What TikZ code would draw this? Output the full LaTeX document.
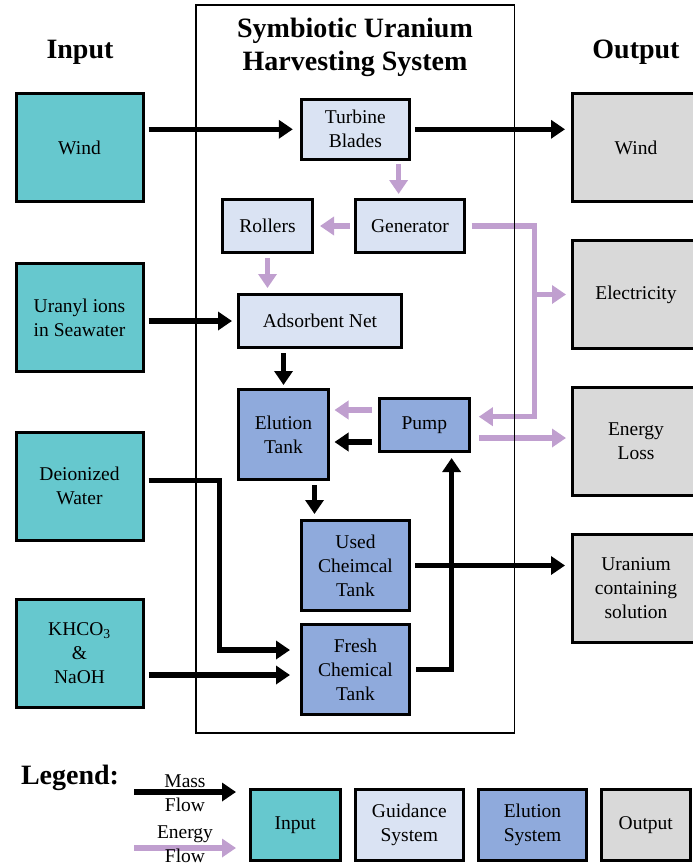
\documentclass[tikz,border=0pt]{standalone}
\usepackage{fontspec}
\setmainfont{Liberation Serif}
\usetikzlibrary{arrows.meta,calc}
\definecolor{inC}{HTML}{66C8CE}
\definecolor{guC}{HTML}{DAE3F3}
\definecolor{elC}{HTML}{8FAADC}
\definecolor{outC}{HTML}{D9D9D9}
\definecolor{enC}{HTML}{C09FCF}
\begin{document}
\begin{tikzpicture}[x=1pt,y=-1pt,
  txt/.style={font=\fontsize{19.5}{24}\selectfont, align=center, inner sep=0pt},
  head/.style={font=\fontsize{28}{33}\selectfont\bfseries, align=center, inner sep=0pt},
  box/.style={txt, draw=black, line width=3pt},
  inbox/.style={box, fill=inC, minimum width=127pt, minimum height=108pt},
  outbox/.style={box, fill=outC, minimum width=127pt, minimum height=108pt},
  gubox/.style={box, fill=guC},
  elbox/.style={box, fill=elC},
  mass/.style={draw=black, line width=5.5pt, -{Triangle[length=14pt,width=18pt]}, shorten <=4pt, shorten >=5pt},
  energy/.style={draw=enC, line width=5.5pt, -{Triangle[length=14pt,width=18pt]}, shorten <=4pt, shorten >=5pt},
]
\useasboundingbox (0,0) rectangle (693,867);
\clip (0,0) rectangle (693,867);

% headings
\node[head] (hin) at (80,52) {Input};
\node[head] (hout) at (636,52) {Output};
\node[head] (title) at (355,47.5) {Symbiotic Uranium\\Harvesting System};

% inputs
\node[inbox] (inWind) at (79.5,147.5) {Wind};
\node[inbox] (inU) at (79.5,317.5) {Uranyl ions\\in Seawater};
\node[inbox] (inDI) at (79.5,486) {Deionized\\Water};
\node[inbox] (inK) at (79.5,653.5) {KHCO\textsubscript{3}\\\&\\NaOH};

% outputs
\node[outbox] (outWind) at (636,147.5) {Wind};
\node[outbox] (outE) at (636,294.5) {Electricity};
\node[outbox] (outL) at (636,441.5) {Energy\\Loss};
\node[outbox] (outU) at (636,588.5) {Uranium\\containing\\solution};

% system
\node[gubox, minimum width=108pt, minimum height=60pt] (turbine) at (355.3,129.3) {Turbine\\Blades};
\node[gubox, minimum width=109pt, minimum height=53pt] (generator) at (410,226) {Generator};
\node[gubox, minimum width=90pt, minimum height=53pt] (rollers) at (267.5,226) {Rollers};
\node[gubox, minimum width=163pt, minimum height=53pt] (adsorb) at (320,321) {Adsorbent Net};
\node[elbox, minimum width=90pt, minimum height=90pt] (elution) at (283.5,434.5) {Elution\\Tank};
\node[elbox, minimum width=90pt, minimum height=53pt] (pump) at (424.3,425) {Pump};
\node[elbox, minimum width=108pt, minimum height=90pt] (used) at (355.5,565.5) {Used\\Cheimcal\\Tank};
\node[elbox, minimum width=108pt, minimum height=90pt] (fresh) at (355.5,669.5) {Fresh\\Chemical\\Tank};

% helper coordinates
\coordinate (bus) at (534.7,0);
\coordinate (diTurn) at (219.6,0);
\coordinate (pumpIn) at ($(pump.east)+(0,-8.3)$);
\coordinate (pumpOut) at ($(pump.east)+(0,13)$);
\coordinate (pumpE1) at ($(pump.west)+(0,-15)$);
\coordinate (pumpM1) at ($(pump.west)+(0,17)$);
\coordinate (tG) at ($(generator.north)+(-11.4,0)$);
\coordinate (eU) at ($(elution.south)+(31,0)$);
\coordinate (diS) at ($(inDI.east)+(0,-5.3)$);
\coordinate (freshA) at ($(fresh.west)+(0,-19.5)$);
\coordinate (kA) at ($(fresh.west)+(0,5.5)$);
\coordinate (pB) at ($(pump.south)+(27.3,0)$);

% energy flows
\draw[energy, shorten <=3pt, shorten >=4pt] (tG |- turbine.south) -- (tG);
\draw[energy, shorten >=6pt] (generator.west) -- (rollers.east);
\draw[energy] (rollers.south) -- (rollers.south |- adsorb.north);
\draw[energy, shorten <=5.5pt, shorten >=8pt] (generator.east) -- (generator.east -| bus) -- (bus |- pumpIn) -- (pumpIn);
\draw[energy, shorten <=0pt] (bus |- outE.west) -- (outE.west);
\draw[energy, shorten <=6pt, shorten >=4.5pt] (pumpE1) -- (pumpE1 -| elution.east);
\draw[energy, shorten <=8pt] (pumpOut) -- (pumpOut -| outL.west);

% mass flows
\draw[mass, shorten >=7pt] (inWind.east |- turbine.west) -- (turbine.west);
\draw[mass, shorten >=6pt] (turbine.east) -- (outWind.west |- turbine.east);
\draw[mass] (inU.east |- adsorb.west) -- (adsorb.west);
\draw[mass, shorten >=3pt] (elution.north |- adsorb.south) -- (elution.north);
\draw[mass, shorten <=6pt, shorten >=4.5pt] (pumpM1) -- (pumpM1 -| elution.east);
\draw[mass] (eU) -- (eU |- used.north);
\draw[mass, shorten >=10pt] (diS) -- (diS -| diTurn) -- (diTurn |- freshA) -- (freshA);
\draw[mass, shorten >=10pt] (inK.east |- kA) -- (kA);
\draw[mass, shorten <=5pt] (fresh.east) -- (fresh.east -| pB) -- (pB);
\draw[mass, shorten >=6pt] (used.east) -- (used.east -| outU.west);

% system boundary
\draw[line width=1.2pt] (196,5) rectangle (514.5,733);

% legend
\node[head] (leg) at (70,778) {Legend:};
\coordinate (lm0) at (134,792);
\coordinate (lm1) at (236,792);
\coordinate (le0) at (134,848);
\coordinate (le1) at (236,848);
\draw[mass, shorten <=0pt, shorten >=0pt] (lm0) -- (lm1);
\draw[energy, shorten <=0pt, shorten >=0pt] (le0) -- (le1);
\node[txt] (lmass) at (185,781) {Mass};
\node[txt] (lflow1) at (185,805) {Flow};
\node[txt] (lenergy) at (185,834) {Energy};
\node[txt] (lflow2) at (185,856) {Flow};
\node[box, fill=inC, minimum width=90pt, minimum height=71pt] (lin) at (295.3,825) {Input};
\node[box, fill=guC, minimum width=108.5pt, minimum height=71pt] (lgu) at (409.3,825) {Guidance\\System};
\node[box, fill=elC, minimum width=108pt, minimum height=71pt] (lel) at (532.5,825) {Elution\\System};
\node[box, fill=outC, minimum width=88.5pt, minimum height=71pt] (lout) at (645.8,825) {Output};
\end{tikzpicture}
\end{document}
